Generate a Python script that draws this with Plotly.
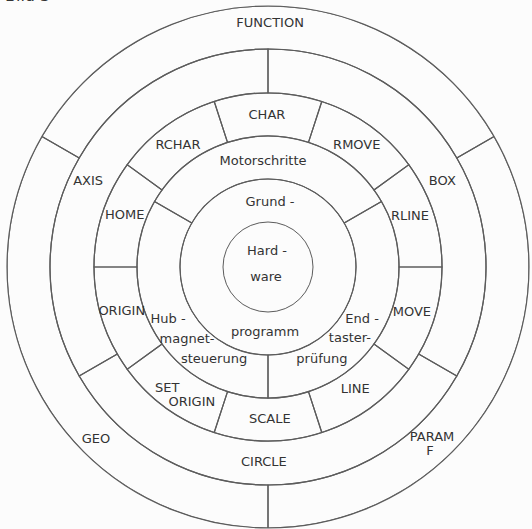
import plotly.graph_objects as go

# ---------------- data ----------------
# ring boundaries (radial scale units)
ring_radii = [0, 45, 88, 131, 174, 218, 261]

# outer ring (218-261)
outer_labels = ["FUNCTION", "GEO", "PARAM F"]
outer_start = [30, 150, 270]
outer_span = [120, 120, 120]

# second ring (174-218)
second_labels = ["AXIS", "CIRCLE", "BOX"]
second_start = [90, 210, 330]
second_span = [120, 120, 120]

# third ring (131-174): ten commands
third_labels = ["RLINE", "RMOVE", "CHAR", "RCHAR", "HOME", "ORIGIN",
                "SET ORIGIN", "SCALE", "LINE", "MOVE"]
third_start = [0, 36, 72, 108, 144, 180, 216, 252, 288, 324]
third_span = [36] * 10

# fourth ring (88-131)
fourth_labels = ["Motorschritte", "Hubmagnetsteuerung", "Endtasterprüfung"]
fourth_start = [30, 150, 270]
fourth_span = [120, 120, 120]

# inner rings (no dividers)
core_labels = ["Hardware", "Grundprogramm"]

# ---------------- label placement (r, theta) ----------------
label_text = ["FUNCTION", "GEO", "PARAM", "F", "AXIS", "BOX", "CIRCLE",
              "CHAR", "RMOVE", "RLINE", "MOVE", "LINE", "SCALE", "SET", "ORIGIN",
              "ORIGIN", "HOME", "RCHAR", "Motorschritte",
              "Hub -", "magnet-", "steuerung", "End -", "taster-", "prüfung",
              "Grund -", "programm", "Hard -", "ware"]
label_r = [243, 244, 237, 246, 199, 194, 196,
           151, 150, 150.5, 151, 151, 153, 158, 156,
           153, 152, 151, 105,
           113, 109, 107.5, 108, 109, 107.5,
           64, 66, 15, 11]
label_theta = [89.5, 225.2, 313.8, 311.2, 154.7, 26.0, 268.8,
               90.4, 53.7, 19.4, 342.3, 305.3, 270.7, 230.4, 240.8,
               197.1, 160.4, 126.6, 92.7,
               207.9, 222.0, 239.9, 330.6, 318.7, 300.1,
               88.2, 267.4, 93.8, 259.7]

LINE_COLOR = "#5c5c5c"
TEXT_COLOR = "#333333"
FONT = "DejaVu Sans"

fig = go.Figure()


def add_ring(labels, starts, spans, r_in, r_out):
    fig.add_trace(go.Barpolar(
        theta=[s + w / 2 for s, w in zip(starts, spans)],
        width=spans,
        base=[r_in] * len(labels),
        r=[r_out - r_in] * len(labels),
        text=labels,
        hoverinfo="text",
        marker=dict(color="rgba(0,0,0,0)",
                    line=dict(color=LINE_COLOR, width=1.2)),
        showlegend=False,
    ))


add_ring(outer_labels, outer_start, outer_span, ring_radii[5], ring_radii[6])
add_ring(second_labels, second_start, second_span, ring_radii[4], ring_radii[5])
add_ring(third_labels, third_start, third_span, ring_radii[3], ring_radii[4])
add_ring(fourth_labels, fourth_start, fourth_span, ring_radii[2], ring_radii[3])

fig.add_trace(go.Scatterpolar(
    r=label_r, theta=label_theta, text=label_text,
    mode="text", textposition="middle center",
    textfont=dict(family=FONT, size=13, color=TEXT_COLOR),
    hoverinfo="text", showlegend=False,
))

W, H = 532, 529
cx, cy, R = 268, 267, ring_radii[-1]

fig.update_layout(
    width=W, height=H,
    margin=dict(l=0, r=0, t=0, b=0),
    paper_bgcolor="#fcfcfc",
    plot_bgcolor="#fcfcfc",
    showlegend=False,
    polar=dict(
        domain=dict(x=[(cx - R) / W, (cx + R) / W],
                    y=[(H - cy - R) / H, (H - cy + R) / H]),
        bgcolor="rgba(0,0,0,0)",
        barmode="overlay",
        bargap=0,
        radialaxis=dict(range=[0, R], showline=False, showticklabels=False,
                        ticks="", tickvals=ring_radii[1:3],
                        showgrid=True, gridcolor=LINE_COLOR, gridwidth=1.2),
        angularaxis=dict(showline=True, linecolor=LINE_COLOR, linewidth=1.2,
                         showticklabels=False, ticks="", showgrid=False,
                         direction="counterclockwise", rotation=0),
    ),
    annotations=[dict(text="Bild 3", x=3 / W, y=1 - 7 / H, xref="paper", yref="paper",
                      xanchor="left", yanchor="bottom", showarrow=False,
                      font=dict(family=FONT, size=16, color=TEXT_COLOR))],
)

fig.write_html("out.html",
               config={"displayModeBar": False},
               post_script="document.body.style.margin='0';"
                           "document.body.style.overflow='hidden';")
